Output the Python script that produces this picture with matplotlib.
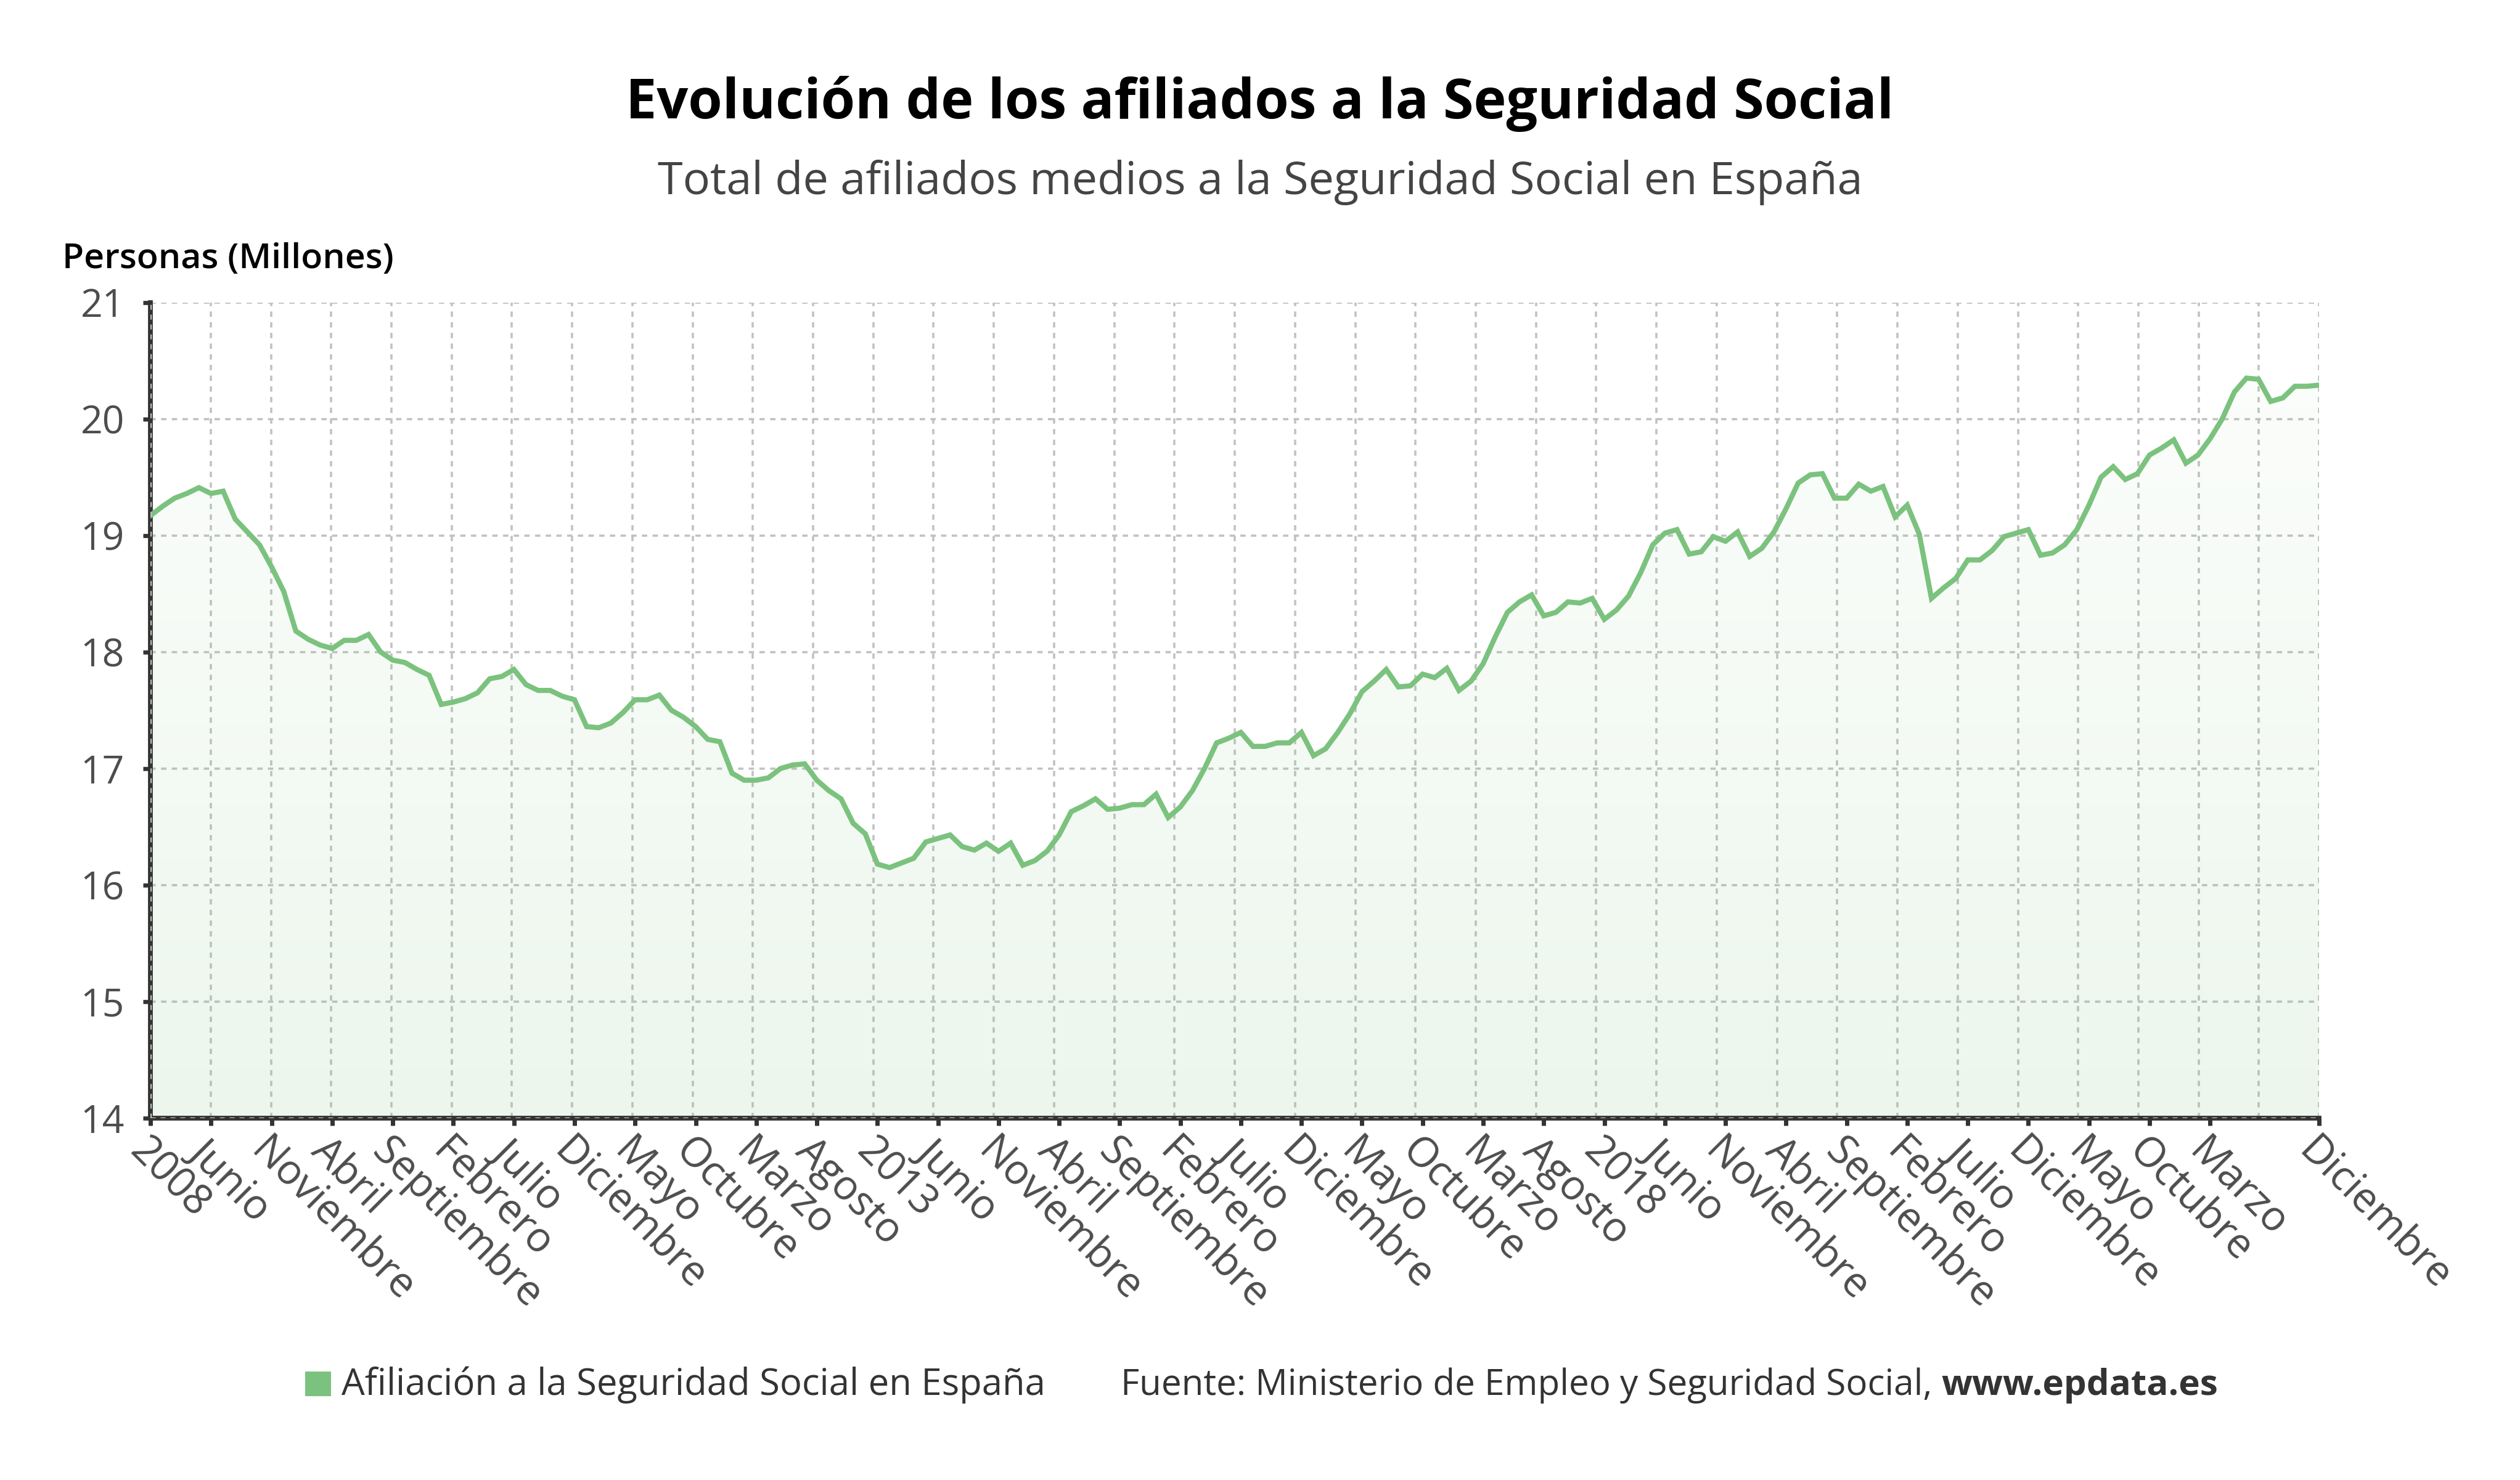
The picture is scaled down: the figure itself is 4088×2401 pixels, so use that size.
import matplotlib
matplotlib.use('Agg')
import matplotlib.pyplot as plt
import matplotlib.colors as mcolors
from matplotlib.patches import Rectangle
from matplotlib.transforms import ScaledTranslation
import numpy as np

plt.rcParams['font.family'] = ['Open Sans', 'DejaVu Sans']

# Afiliados medios (millones), enero 2008 - diciembre 2022
afiliados = [
    19.17, 19.25, 19.32, 19.36, 19.41, 19.36, 19.38, 19.14, 19.03, 18.92, 18.73, 18.52,  # 2008
    18.18, 18.11, 18.06, 18.03, 18.10, 18.10, 18.15, 18.00, 17.93, 17.91, 17.85, 17.80,  # 2009
    17.55, 17.57, 17.60, 17.65, 17.77, 17.79, 17.85, 17.72, 17.67, 17.67, 17.62, 17.59,  # 2010
    17.36, 17.35, 17.39, 17.48, 17.59, 17.59, 17.63, 17.50, 17.44, 17.36, 17.25, 17.23,  # 2011
    16.96, 16.90, 16.90, 16.92, 17.00, 17.03, 17.04, 16.90, 16.81, 16.74, 16.53, 16.44,  # 2012
    16.18, 16.15, 16.19, 16.23, 16.37, 16.40, 16.43, 16.33, 16.30, 16.36, 16.29, 16.36,  # 2013
    16.17, 16.21, 16.29, 16.43, 16.63, 16.68, 16.74, 16.65, 16.66, 16.69, 16.69, 16.78,  # 2014
    16.58, 16.67, 16.81, 17.00, 17.22, 17.26, 17.31, 17.19, 17.19, 17.22, 17.22, 17.31,  # 2015
    17.11, 17.17, 17.31, 17.47, 17.66, 17.75, 17.85, 17.70, 17.71, 17.81, 17.78, 17.86,  # 2016
    17.67, 17.75, 17.90, 18.13, 18.34, 18.43, 18.49, 18.31, 18.34, 18.43, 18.42, 18.46,  # 2017
    18.28, 18.36, 18.48, 18.68, 18.92, 19.02, 19.05, 18.84, 18.86, 18.99, 18.95, 19.03,  # 2018
    18.82, 18.89, 19.03, 19.23, 19.45, 19.52, 19.53, 19.32, 19.32, 19.44, 19.38, 19.42,  # 2019
    19.16, 19.26, 19.01, 18.46, 18.55, 18.63, 18.79, 18.79, 18.87, 18.99, 19.02, 19.05,  # 2020
    18.83, 18.85, 18.92, 19.05, 19.26, 19.50, 19.59, 19.48, 19.53, 19.69, 19.75, 19.82,  # 2021
    19.62, 19.69, 19.83, 20.00, 20.23, 20.35, 20.34, 20.15, 20.18, 20.28, 20.28, 20.29,  # 2022
]
meses = np.arange(len(afiliados))

# etiquetas del eje x (cada 5 meses + el ultimo)
tick_pos = list(range(0, 171, 5)) + [179]
tick_labels = [
    "2008", "Junio", "Noviembre", "Abril", "Septiembre", "Febrero", "Julio", "Diciembre",
    "Mayo", "Octubre", "Marzo", "Agosto", "2013", "Junio", "Noviembre", "Abril",
    "Septiembre", "Febrero", "Julio", "Diciembre", "Mayo", "Octubre", "Marzo", "Agosto",
    "2018", "Junio", "Noviembre", "Abril", "Septiembre", "Febrero", "Julio", "Diciembre",
    "Mayo", "Octubre", "Marzo", "Diciembre",
]
y_ticks = [14, 15, 16, 17, 18, 19, 20, 21]

verde = '#7bc27e'
gris_grid = '#c2c2c2'
oscuro = '#333333'

fig = plt.figure(figsize=(20.44, 12.005), dpi=200)
ax = fig.add_axes([0.0597, 0.2445, 0.8606, 0.5512])

# relleno degradado bajo la linea
rgb = mcolors.to_rgb(verde)
grad = np.zeros((256, 1, 4))
grad[..., 0], grad[..., 1], grad[..., 2] = rgb
grad[..., 3] = np.linspace(0.14, 0.02, 256)[:, None]
im = ax.imshow(grad, extent=[0, 179, 14, 21], origin='lower', aspect='auto', zorder=1.5)
area = ax.fill_between(meses, afiliados, 14, facecolor='none', edgecolor='none')
im.set_clip_path(area.get_paths()[0], transform=ax.transData)

# rejilla discontinua
dash = (0, (2.4, 2.4))
for v in np.linspace(0, 179, 37):
    ax.axvline(v, color=gris_grid, lw=1.3, ls=dash, zorder=1)
for h in y_ticks:
    ax.axhline(h, color=gris_grid, lw=1.3, ls=dash, zorder=1)

ax.plot(meses, afiliados, color=verde, lw=3.0, zorder=3, solid_joinstyle='miter')

# rejilla encima de los ejes (como en el original)
ax.axvline(0, color=gris_grid, lw=1.2, ls=dash, zorder=4)
ax.axhline(14, color=gris_grid, lw=1.2, ls=dash, zorder=4)

ax.set_xlim(0, 179)
ax.set_ylim(14, 21)
ax.set_yticks(y_ticks)
ax.set_xticks(tick_pos)
ax.set_xticklabels(tick_labels, rotation=-45, ha='left', va='top', rotation_mode='anchor')
desplaza = ScaledTranslation(4 / 72, 0, fig.dpi_scale_trans)
for lab in ax.get_xticklabels():
    lab.set_transform(lab.get_transform() + desplaza)

for s in ['top', 'right']:
    ax.spines[s].set_visible(False)
for s in ['left', 'bottom']:
    ax.spines[s].set_color(oscuro)
    ax.spines[s].set_linewidth(2.8)

ax.tick_params(axis='x', colors=oscuro, labelcolor='#4d4d4d', labelsize=24,
               length=4.2, width=2.5, pad=3)
ax.tick_params(axis='y', colors=oscuro, labelcolor='#4d4d4d', labelsize=22.5,
               length=4.2, width=2.4, pad=11)

# textos
fig.text(0.5, 0.920, "Evolución de los afiliados a la Seguridad Social",
         ha='center', va='baseline', fontsize=32.3, weight='bold', color='black')
fig.text(0.5, 0.8688, "Total de afiliados medios a la Seguridad Social en España",
         ha='center', va='baseline', fontsize=26.6, color='#444444')
fig.text(0.0247, 0.8188, "Personas (Millones)", ha='left', va='baseline',
         fontsize=20.6, weight='semibold', color='black')

# leyenda y fuente
fig.patches.append(Rectangle((495 / 4088, 1 - 2265 / 2401), 42 / 4088, 40 / 2401,
                             transform=fig.transFigure, facecolor=verde, edgecolor='none'))
fig.text(554 / 4088, 1 - 2263 / 2401, "Afiliación a la Seguridad Social en España",
         ha='left', va='baseline', fontsize=21.5, color=oscuro)
fuente = fig.text(1818 / 4088, 1 - 2263 / 2401,
                  "Fuente: Ministerio de Empleo y Seguridad Social, ",
                  ha='left', va='baseline', fontsize=21, color=oscuro)
renderer = fig.canvas.get_renderer()
bb = fuente.get_window_extent(renderer=renderer)
fig.text(bb.x1 / fig.bbox.width, 1 - 2263 / 2401, "www.epdata.es",
         ha='left', va='baseline', fontsize=21, weight='bold', color=oscuro)

fig.savefig('out.png', dpi=200, facecolor='white')
